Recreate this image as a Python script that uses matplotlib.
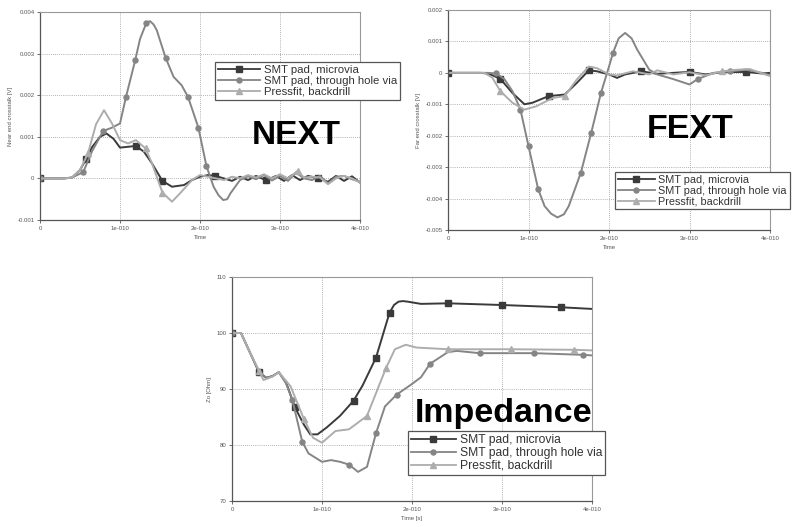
import matplotlib
matplotlib.use("Agg")
import matplotlib.pyplot as plt
from matplotlib.lines import Line2D

plt.rcParams['font.family'] = ['Liberation Sans', 'DejaVu Sans']

# ---------------- data (time in units of 1e-10 s) ----------------
series_names = ["SMT pad, microvia", "SMT pad, through hole via", "Pressfit, backdrill"]
colors = ["#3a3a3a", "#858585", "#adadad"]
markers = ["s", "o", "^"]
xtick_vals = [0, 1, 2, 3, 4]
xtick_labels = ["0", "1e-010", "2e-010", "3e-010", "4e-010"]

# NEXT (mV)
next_mv_t = [0, 0.3, 0.4, 0.5, 0.575, 0.65, 0.75, 0.83, 0.92, 1.0, 1.1, 1.2, 1.3, 1.4, 1.53, 1.65, 1.8, 1.9, 2.0,
             2.1, 2.19, 2.3, 2.4, 2.5, 2.6, 2.7, 2.83, 2.95, 3.05, 3.15, 3.25, 3.35, 3.48, 3.6, 3.7, 3.8, 3.9, 4.0]
next_mv_v = [0, 0, 0.02, 0.2, 0.46, 0.75, 1.0, 1.08, 0.95, 0.74, 0.76, 0.78, 0.64, 0.36, -0.06, -0.2, -0.16, -0.04,
             0.04, 0.08, 0.06, 0.0, -0.06, 0.04, -0.04, 0.06, -0.05, 0.06, -0.06, 0.08, -0.04, 0.06, 0.0, -0.08,
             0.06, -0.06, 0.05, -0.1]
next_mv_mk = [0, 0.575, 1.2, 1.53, 2.19, 2.83, 3.48]

next_th_t = [0, 0.3, 0.4, 0.54, 0.65, 0.79, 0.9, 1.0, 1.075, 1.19, 1.25, 1.33, 1.375, 1.42, 1.46, 1.57, 1.67, 1.77,
             1.85, 1.98, 2.08, 2.17, 2.23, 2.29, 2.34, 2.38, 2.5, 2.6, 2.7, 2.8, 2.9, 3.0, 3.1, 3.2, 3.3, 3.4, 3.5,
             3.6, 3.7, 3.8, 3.9, 4.0]
next_th_v = [0, 0, 0.02, 0.15, 0.65, 1.14, 1.22, 1.32, 1.96, 2.84, 3.35, 3.74, 3.78, 3.7, 3.56, 2.9, 2.44, 2.24,
             1.96, 1.22, 0.3, -0.2, -0.4, -0.52, -0.5, -0.36, -0.04, 0.05, -0.02, 0.08, -0.05, 0.06, -0.06, 0.14,
             0.0, -0.04, 0.06, -0.12, 0.04, 0.06, -0.02, -0.08]
next_th_mk = [0, 0.54, 0.79, 1.075, 1.19, 1.33, 1.57, 1.85, 1.98, 2.08]

next_pf_t = [0, 0.3, 0.4, 0.5, 0.6, 0.7, 0.8, 0.9, 1.0, 1.1, 1.2, 1.32, 1.4, 1.53, 1.65, 1.75, 1.9, 2.0, 2.1, 2.2,
             2.3, 2.4, 2.5, 2.6, 2.7, 2.8, 2.9, 3.0, 3.1, 3.22, 3.3, 3.4, 3.5, 3.6, 3.7, 3.8, 3.9, 4.0]
next_pf_v = [0, 0, 0.02, 0.2, 0.6, 1.3, 1.64, 1.32, 0.92, 0.84, 0.92, 0.72, 0.36, -0.34, -0.56, -0.36, -0.04, 0.08,
             0.04, 0.0, -0.04, 0.04, 0.0, 0.08, 0.02, 0.1, 0.0, 0.1, 0.0, 0.18, 0.02, 0.04, 0.02, -0.14, 0.0, 0.06,
             0.0, -0.1]
next_pf_mk = [0.6, 1.32, 1.53, 3.22]

# FEXT (mV)
fext_mv_t = [0, 0.4, 0.5, 0.65, 0.8, 0.95, 1.05, 1.25, 1.45, 1.6, 1.75, 1.85, 2.0, 2.1, 2.2, 2.4, 2.6, 2.8, 3.0,
             3.2, 3.4, 3.7, 3.9, 4.0]
fext_mv_v = [0, 0, -0.02, -0.19, -0.64, -1.0, -0.95, -0.74, -0.69, -0.32, 0.08, 0.05, -0.05, -0.16, -0.05, 0.05,
             -0.03, 0.0, 0.03, -0.05, 0.02, 0.03, -0.02, 0.0]
fext_mv_mk = [0, 0.65, 1.25, 1.75, 2.4, 3.0, 3.7]

fext_th_t = [0, 0.5, 0.6, 0.7, 0.8, 0.9, 1.0, 1.12, 1.2, 1.28, 1.36, 1.44, 1.5, 1.65, 1.78, 1.9, 2.0, 2.05, 2.12,
             2.2, 2.28, 2.35, 2.5, 2.6, 2.8, 3.0, 3.1, 3.3, 3.5, 3.7, 3.9, 4.0]
fext_th_v = [0, 0, -0.02, -0.2, -0.58, -1.17, -2.33, -3.7, -4.24, -4.48, -4.6, -4.5, -4.24, -3.18, -1.9, -0.64,
             0.2, 0.64, 1.1, 1.27, 1.1, 0.74, 0.1, -0.05, -0.2, -0.37, -0.2, 0.0, 0.05, 0.1, 0.0, -0.08]
fext_th_mk = [0.6, 0.9, 1.0, 1.12, 1.65, 1.78, 1.9, 2.05, 3.1, 3.5]

fext_pf_t = [0, 0.45, 0.55, 0.65, 0.8, 0.95, 1.1, 1.3, 1.45, 1.6, 1.75, 1.85, 2.0, 2.1, 2.3, 2.5, 2.6, 2.8, 3.0,
             3.2, 3.4, 3.6, 3.75, 3.9, 4.0]
fext_pf_v = [0, 0, -0.15, -0.58, -0.95, -1.17, -1.06, -0.8, -0.74, -0.21, 0.2, 0.15, -0.05, -0.08, 0.05, -0.05,
             0.08, -0.05, 0.02, -0.08, 0.05, 0.1, 0.12, -0.02, -0.1]
fext_pf_mk = [0.65, 1.45, 3.4]

# Impedance (Ohm)
imp_mv_t = [0, 0.1, 0.2, 0.3, 0.38, 0.45, 0.52, 0.6, 0.7, 0.8, 0.87, 0.95, 1.05, 1.2, 1.35, 1.45, 1.6, 1.75, 1.8,
            1.85, 1.9, 1.95, 2.1, 2.4, 3.0, 3.65, 4.0]
imp_mv_v = [100, 100, 96.5, 93, 92, 92.3, 93, 91.2, 86.7, 83.6, 81.9, 81.9, 83.1, 85.2, 87.9, 90.6, 95.6, 103.6,
            105.0, 105.6, 105.7, 105.6, 105.2, 105.3, 105.0, 104.6, 104.3]
imp_mv_mk = [0, 0.3, 0.7, 1.35, 1.6, 1.75, 2.4, 3.0, 3.65]

imp_th_t = [0, 0.1, 0.2, 0.3, 0.38, 0.45, 0.52, 0.6, 0.67, 0.78, 0.85, 1.0, 1.1, 1.2, 1.3, 1.4, 1.5, 1.6, 1.7,
            1.83, 2.0, 2.1, 2.2, 2.4, 2.5, 2.75, 3.35, 3.9, 4.0]
imp_th_v = [100, 100, 96.5, 93, 92, 92.3, 93, 91, 88.1, 80.6, 78.5, 77, 77.3, 77, 76.5, 75.2, 76.1, 82.1, 86.9,
            89, 90.9, 92.1, 94.5, 96.6, 96.8, 96.4, 96.4, 96.1, 96.0]
imp_th_mk = [0, 0.67, 0.78, 1.3, 1.6, 1.83, 2.2, 2.75, 3.35, 3.9]

imp_pf_t = [0, 0.1, 0.2, 0.3, 0.35, 0.45, 0.52, 0.65, 0.8, 0.9, 1.0, 1.15, 1.3, 1.5, 1.71, 1.81, 1.93, 2.05, 2.4,
            3.1, 3.8, 4.0]
imp_pf_v = [100, 100, 96.5, 93.3, 91.6, 92.2, 93, 90.5, 84.6, 81.3, 80.4, 82.5, 82.8, 85.2, 93.7, 97.1, 97.9,
            97.4, 97.1, 97.1, 97.0, 96.9]
imp_pf_mk = [0.3, 0.8, 1.5, 1.71, 2.4, 3.1, 3.8]

W, H = 794, 527
fig = plt.figure(figsize=(W / 100, H / 100), dpi=100)


def px_axes(l, t, r, b):
    return fig.add_axes([l / W, 1 - b / H, (r - l) / W, (b - t) / H])


def style_axes(ax, ylim, yticks, ylabels, xlabel, ylabel):
    ax.set_xlim(0, 4)
    ax.set_ylim(*ylim)
    ax.set_xticks(xtick_vals)
    ax.set_xticklabels(xtick_labels)
    ax.set_yticks(yticks)
    ax.set_yticklabels(ylabels)
    ax.grid(True, linestyle=(0, (1, 1.5)), color="#9a9a9a", linewidth=0.6)
    ax.tick_params(labelsize=4.3, colors="#555555", length=2, width=0.6, pad=2)
    for s in ["left", "bottom"]:
        ax.spines[s].set_color("#555555")
        ax.spines[s].set_linewidth(0.9)
    for s in ["top", "right"]:
        ax.spines[s].set_color("#999999")
        ax.spines[s].set_linewidth(0.8)
    ax.set_xlabel(xlabel, fontsize=4.3, color="#555555", labelpad=3)
    ax.set_ylabel(ylabel, fontsize=4.3, color="#555555", labelpad=3)


def draw_series(ax, data, scale):
    for (t, v, mk), c, m in zip(data, colors, markers):
        idx = [t.index(x) for x in mk]
        ax.plot(t, [y * scale for y in v], color=c, lw=1.4, solid_joinstyle="round",
                marker=m, markevery=idx, ms=4 if m != "o" else 3.6, mfc=c, mec=c)


def add_legend(ax, bbox, fs, hl):
    handles = [Line2D([], [], color=c, lw=1.3, marker=m, ms=4 if m != "o" else 3.6, mfc=c, mec=c)
               for c, m in zip(colors, markers)]
    leg = fig.legend(handles, series_names, loc="upper left",
                     bbox_to_anchor=(bbox[0] / W, 1 - bbox[1] / H), bbox_transform=fig.transFigure,
                     fontsize=fs, handlelength=hl, handletextpad=0.35, labelspacing=0.08,
                     borderpad=0.25, borderaxespad=0, fancybox=False, framealpha=1,
                     edgecolor="#555555", frameon=True)
    leg.get_frame().set_linewidth(0.9)
    for txt in leg.get_texts():
        txt.set_color("#333333")
    return leg


# NEXT
ax1 = px_axes(40, 12, 360, 220)
style_axes(ax1, (-0.001, 0.004), [-0.001, 0, 0.001, 0.002, 0.003, 0.004],
           ["-0.001", "0", "0.001", "0.002", "0.003", "0.004"], "Time", "Near end crosstalk [V]")
draw_series(ax1, [(next_mv_t, next_mv_v, next_mv_mk), (next_th_t, next_th_v, next_th_mk),
                  (next_pf_t, next_pf_v, next_pf_mk)], 1e-3)
add_legend(ax1, (215, 62), 8.2, 3.7)
fig.text(252 / W, 1 - 144 / H, "NEXT", fontsize=24, fontweight="bold", color="black", va="baseline")

# FEXT
ax2 = px_axes(448, 10, 770, 230)
style_axes(ax2, (-0.005, 0.002), [-0.005, -0.004, -0.003, -0.002, -0.001, 0, 0.001, 0.002],
           ["-0.005", "-0.004", "-0.003", "-0.002", "-0.001", "0", "0.001", "0.002"], "Time", "Far end crosstalk [V]")
draw_series(ax2, [(fext_mv_t, fext_mv_v, fext_mv_mk), (fext_th_t, fext_th_v, fext_th_mk),
                  (fext_pf_t, fext_pf_v, fext_pf_mk)], 1e-3)
add_legend(ax2, (615, 172), 7.8, 3.4)
fig.text(647 / W, 1 - 138 / H, "FEXT", fontsize=24.5, fontweight="bold", color="black", va="baseline")

# Impedance
ax3 = px_axes(232, 277, 592, 501)
style_axes(ax3, (70, 110), [70, 80, 90, 100, 110], ["70", "80", "90", "100", "110"], "Time [s]", "Zo [Ohm]")
draw_series(ax3, [(imp_mv_t, imp_mv_v, imp_mv_mk), (imp_th_t, imp_th_v, imp_th_mk),
                  (imp_pf_t, imp_pf_v, imp_pf_mk)], 1.0)
add_legend(ax3, (408, 431), 8.7, 3.7)
fig.text(415 / W, 1 - 422 / H, "Impedance", fontsize=24.5, fontweight="bold", color="black", va="baseline")

fig.savefig("out.png", dpi=100)
